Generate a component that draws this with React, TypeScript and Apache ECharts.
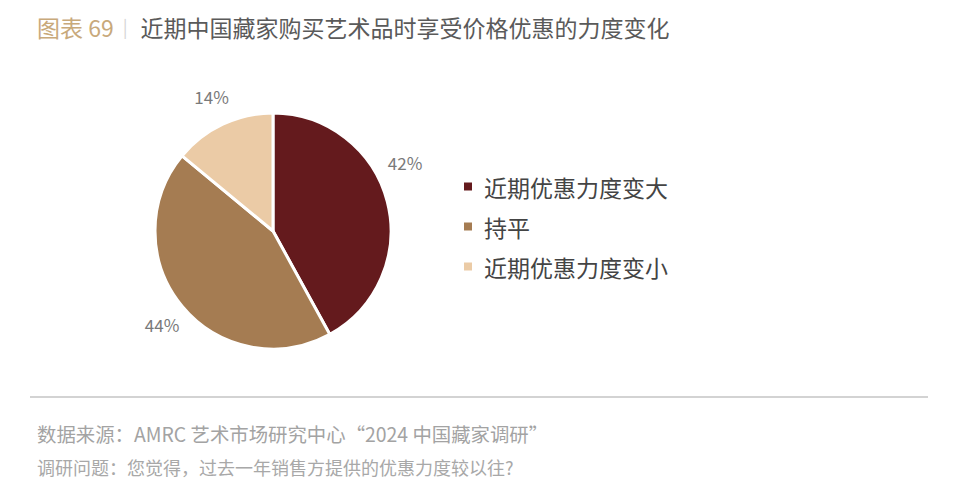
import { useEffect, useRef } from "react";
import * as echarts from "echarts";

const categories = ["近期优惠力度变大", "持平", "近期优惠力度变小"];
const shares = [42, 44, 14];
const sliceColors = ["#641a1d", "#a57c52", "#ebcba6"];
// hand-placed label nudges, as in the source chart
const labelNudges = [
  [-18, -36],
  [13, 9],
  [17, -15],
];

const titleTag = "图表 69";
const titleText = "近期中国藏家购买艺术品时享受价格优惠的力度变化";
const sourceText = "数据来源：AMRC 艺术市场研究中心“2024 中国藏家调研”";
const questionText = "调研问题：您觉得，过去一年销售方提供的优惠力度较以往?";

const FONT = "'Noto Sans CJK SC', 'Noto Sans', sans-serif";

export default function App() {
  const ref = useRef<HTMLDivElement | null>(null);

  useEffect(() => {
    document.body.style.margin = "0";
    if (!ref.current) return;
    const chart = echarts.init(ref.current, undefined, { renderer: "svg" });

    chart.setOption({
      animation: false,
      backgroundColor: "#ffffff",
      textStyle: { fontFamily: FONT },
      title: [
        {
          left: 32,
          top: 10,
          text: `{tag|${titleTag}}{sep||}{main|${titleText}}`,
          textStyle: {
            fontWeight: "normal",
            rich: {
              tag: { fontSize: 23, fontWeight: "normal", color: "#c8a97b", fontFamily: FONT },
              sep: {
                fontSize: 18,
                fontWeight: "normal",
                color: "#d6d6d6",
                fontFamily: FONT,
                padding: [0, 13, 2, 9],
              },
              main: { fontSize: 23, fontWeight: "normal", color: "#5a5a5a", fontFamily: FONT },
            },
          },
        },
        {
          left: 32,
          top: 419,
          text: sourceText,
          textStyle: { fontSize: 19.4, fontWeight: "normal", color: "#a3a3a3", fontFamily: FONT },
        },
        {
          left: 32,
          top: 453,
          text: questionText,
          textStyle: { fontSize: 18, fontWeight: "normal", color: "#a8a8a8", fontFamily: FONT },
        },
      ],
      graphic: [
        {
          type: "line",
          shape: { x1: 30, y1: 397, x2: 928, y2: 397 },
          style: { stroke: "#d3d3d3", lineWidth: 2 },
        },
      ],
      legend: {
        orient: "vertical",
        left: 457,
        top: 170,
        icon: "rect",
        itemWidth: 10,
        itemHeight: 10,
        itemGap: 17,
        textStyle: { fontSize: 23, color: "#444444", fontFamily: FONT, padding: [0, 0, 0, 6] },
        data: categories,
      },
      series: [
        {
          type: "pie",
          center: [273, 231],
          radius: [0, 118],
          startAngle: 90,
          clockwise: true,
          itemStyle: { borderColor: "#ffffff", borderWidth: 3 },
          label: {
            show: true,
            position: "outside",
            formatter: "{c}%",
            fontSize: 17,
            color: "#7a7a7a",
            fontFamily: FONT,
          },
          labelLine: { show: false, length: 14, length2: 0 },
          labelLayout: (params: { dataIndex: number }) => ({
            dx: labelNudges[params.dataIndex][0],
            dy: labelNudges[params.dataIndex][1],
          }),
          data: categories.map((name, i) => ({
            name,
            value: shares[i],
            itemStyle: { color: sliceColors[i] },
          })),
        },
      ],
    });

    return () => chart.dispose();
  }, []);

  return <div ref={ref} style={{ width: 958, height: 494 }} />;
}
